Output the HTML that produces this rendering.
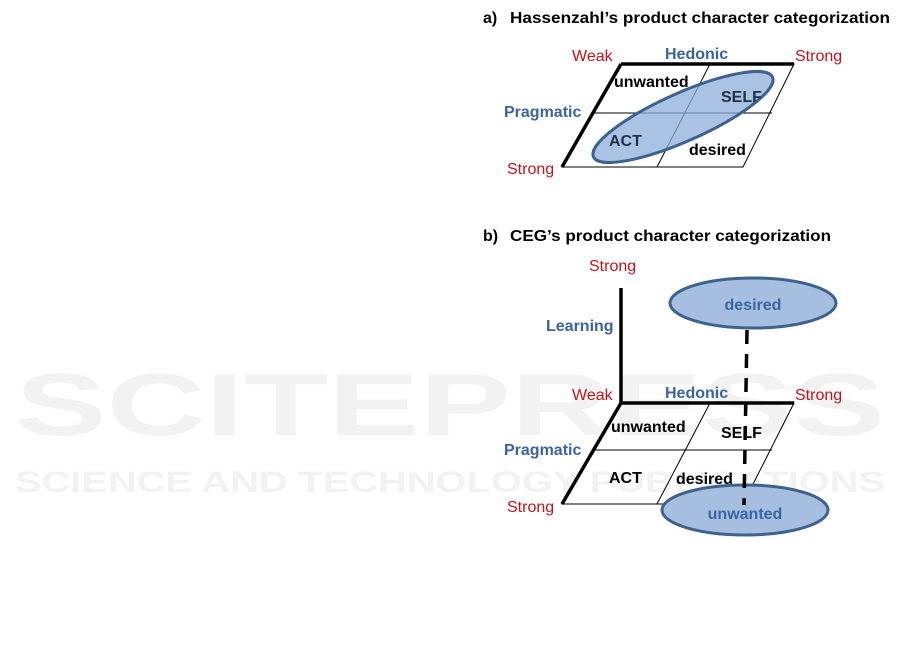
<!DOCTYPE html>
<html><head><style>body{margin:0;background:#fff}svg{display:block}</style></head><body>
<svg width="901" height="664" viewBox="0 0 901 664" xmlns="http://www.w3.org/2000/svg" font-family="Liberation Sans, sans-serif">
<g fill="#f2f2f2" font-weight="bold">
<text x="450" y="435" font-size="88" text-anchor="middle" textLength="870" lengthAdjust="spacingAndGlyphs">SCITEPRESS</text>
<text x="450" y="492" font-size="30" text-anchor="middle" textLength="870" lengthAdjust="spacingAndGlyphs">SCIENCE AND TECHNOLOGY PUBLICATIONS</text>
</g>
<g font-weight="bold" font-size="16" fill="#000">
<text x="483" y="23">a)</text><text x="510" y="23" textLength="380" lengthAdjust="spacingAndGlyphs">Hassenzahl’s product character categorization</text>
<text x="483" y="241">b)</text><text x="510" y="241" textLength="321" lengthAdjust="spacingAndGlyphs">CEG’s product character categorization</text>
</g>
<!-- part a -->
<g stroke="#000" fill="none">
<polygon points="621,64 794,64 743,167 562,167" stroke-width="1"/>
<line x1="593" y1="113" x2="772" y2="113"/>
<line x1="710" y1="64" x2="657" y2="167"/>
<line x1="621" y1="64" x2="794" y2="64" stroke-width="3.5"/>
<line x1="621" y1="64" x2="562" y2="167" stroke-width="3.5"/>
</g>
<ellipse cx="683" cy="117" rx="98" ry="24" transform="rotate(-24 683 117)" fill="#8eaedb" fill-opacity="0.75" stroke="#3d6290" stroke-width="3"/>
<g font-size="16">
<text x="572" y="61" fill="#c0141c">Weak</text>
<text x="665" y="59" fill="#3a64a0" font-weight="bold">Hedonic</text>
<text x="795" y="61" fill="#c0141c">Strong</text>
<text x="504" y="117" fill="#3a64a0" font-weight="bold">Pragmatic</text>
<text x="507" y="174" fill="#c0141c">Strong</text>
<g font-weight="bold" fill="#000">
<text x="614" y="87">unwanted</text>
<text x="721" y="102" fill="#1f2f46">SELF</text>
<text x="609" y="146" fill="#1f2f46">ACT</text>
<text x="689" y="155">desired</text>
</g>
</g>
<!-- part b -->
<ellipse cx="753" cy="303" rx="83" ry="25" fill="#a6bfe0" stroke="#3d6290" stroke-width="3"/>
<g stroke="#000" fill="none">
<polygon points="621,403 794,403 743,504 562,504" stroke-width="1"/>
<line x1="593" y1="450" x2="772" y2="450"/>
<line x1="710" y1="403" x2="657" y2="504"/>
<line x1="621" y1="403" x2="794" y2="403" stroke-width="3.5"/>
<line x1="621" y1="403" x2="562" y2="504" stroke-width="3.5"/>
<line x1="621" y1="288" x2="621" y2="403" stroke-width="3.5"/>
</g>
<ellipse cx="745" cy="510" rx="83" ry="25" fill="#a6bfe0" stroke="#3d6290" stroke-width="3"/>
<line x1="747" y1="330" x2="744" y2="505" stroke="#000" stroke-width="3.5" stroke-dasharray="14,10"/>
<g font-size="16">
<text x="589" y="271" fill="#c0141c">Strong</text>
<text x="546" y="331" fill="#3a64a0" font-weight="bold">Learning</text>
<text x="572" y="400" fill="#c0141c">Weak</text>
<text x="665" y="398" fill="#3a64a0" font-weight="bold">Hedonic</text>
<text x="795" y="400" fill="#c0141c">Strong</text>
<text x="504" y="455" fill="#3a64a0" font-weight="bold">Pragmatic</text>
<text x="507" y="512" fill="#c0141c">Strong</text>
<text x="753" y="310" fill="#3a64a0" font-weight="bold" text-anchor="middle">desired</text>
<text x="745" y="519" fill="#3a64a0" font-weight="bold" text-anchor="middle">unwanted</text>
<g font-weight="bold" fill="#000">
<text x="611" y="432">unwanted</text>
<text x="721" y="438">SELF</text>
<text x="609" y="483">ACT</text>
<text x="676" y="484">desired</text>
</g>
</g>
</svg>
</body></html>
